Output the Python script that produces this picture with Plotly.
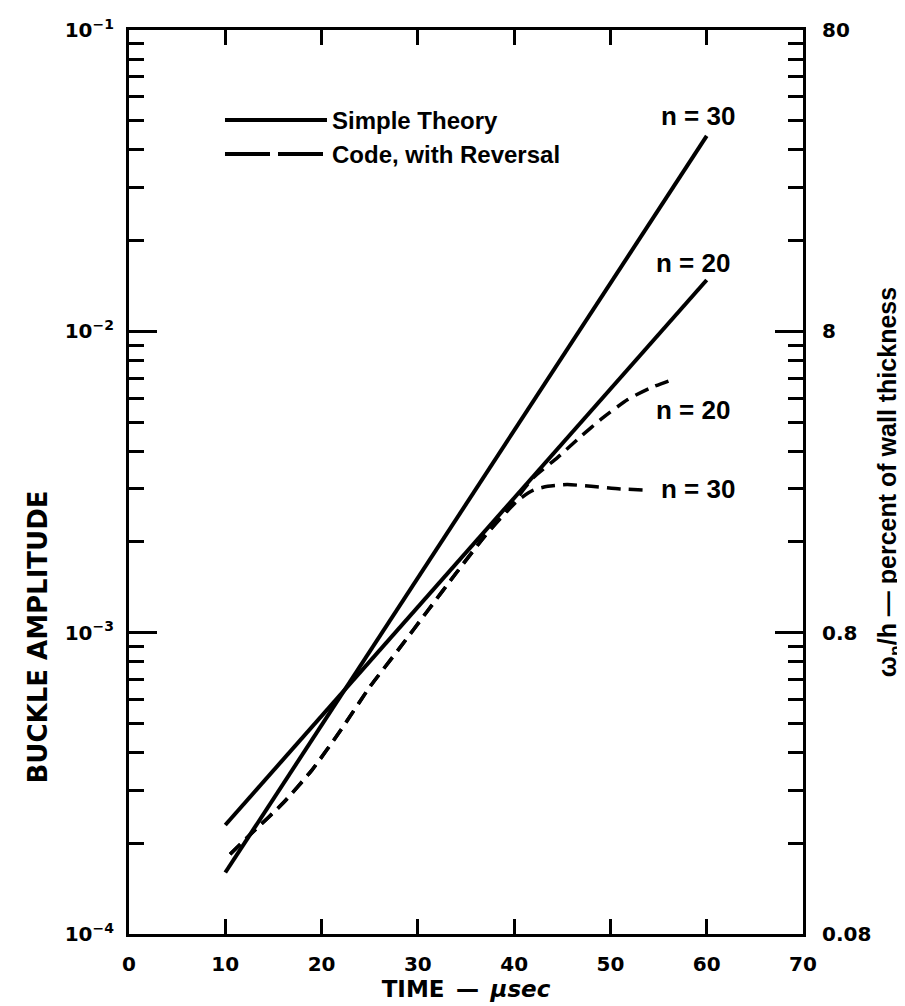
import plotly.graph_objects as go
import math

# ---------------- data ----------------
time_simple = [10, 60]
simple_n30 = [1.6e-4, 4.45e-2]
simple_n20 = [2.3e-4, 1.48e-2]

time_code_n30 = [10.5, 13, 16, 19, 22, 25, 28, 31, 34, 37, 40.4, 42, 43.5, 45.5, 48, 51, 54]
code_n30 = [1.84e-4, 2.2e-4, 2.72e-4, 3.5e-4, 4.75e-4, 6.6e-4, 8.8e-4, 1.18e-3, 1.58e-3, 2.1e-3,
            2.75e-3, 2.97e-3, 3.06e-3, 3.1e-3, 3.06e-3, 3.0e-3, 2.97e-3]

time_code_n20 = [10.5, 13, 16, 19, 22, 25, 28, 31, 34, 37, 40, 42, 44.5, 47, 49, 51.8, 54.2, 56.2]
code_n20 = [1.84e-4, 2.2e-4, 2.72e-4, 3.5e-4, 4.75e-4, 6.6e-4, 8.8e-4, 1.18e-3, 1.58e-3, 2.1e-3,
            2.72e-3, 3.27e-3, 3.81e-3, 4.5e-3, 5.1e-3, 5.94e-3, 6.5e-3, 6.87e-3]

x_ticks = [0, 10, 20, 30, 40, 50, 60, 70]
y_ticks = [1e-4, 1e-3, 1e-2, 1e-1]
y_ticktext = ["10<sup>−4</sup>", "10<sup>−3</sup>", "10<sup>−2</sup>", "10<sup>−1</sup>"]
y2_ticks = [0.08, 0.8, 8, 80]
y2_ticktext = ["0.08", "0.8", "8", "80"]
y_minor = [k * 10.0 ** e for e in (-4, -3, -2) for k in range(2, 10)]

curve_labels = [
    (59.1, 5.2e-2, "n = 30"),
    (58.6, 1.69e-2, "n = 20"),
    (58.6, 5.5e-3, "n = 20"),
    (59.1, 3.0e-3, "n = 30"),
]

# ---------------- figure ----------------
BLACK = "#000000"
LIB = "Liberation Sans, Arial, sans-serif"
DJV = "DejaVu Sans, sans-serif"
TXT = dict(family=LIB, size=26, color=BLACK, weight="bold")
LEGF = dict(family=LIB, size=24, color=BLACK, weight="bold")
TICKF = dict(family=DJV, size=20, color=BLACK, weight="bold")

fig = go.Figure()

fig.add_trace(go.Scatter(x=time_simple, y=simple_n30, mode="lines", name="Simple Theory",
                         line=dict(color=BLACK, width=4), showlegend=True))
fig.add_trace(go.Scatter(x=time_simple, y=simple_n20, mode="lines", name="Simple Theory n20",
                         line=dict(color=BLACK, width=4), showlegend=False))
fig.add_trace(go.Scatter(x=time_code_n30, y=code_n30, mode="lines", name="Code n30",
                         line=dict(color=BLACK, width=3.5, dash="14px,8px", shape="spline", smoothing=0.6),
                         showlegend=False))
fig.add_trace(go.Scatter(x=time_code_n20, y=code_n20, mode="lines", name="Code n20",
                         line=dict(color=BLACK, width=3.5, dash="14px,8px", shape="spline", smoothing=0.6),
                         showlegend=False))
# legend entry for the dashed style
fig.add_trace(go.Scatter(x=[None], y=[None], mode="lines", name="Code, with Reversal",
                         line=dict(color=BLACK, width=4, dash="45px,8px"), showlegend=True))
# invisible trace on the right axis so it is drawn
fig.add_trace(go.Scatter(x=[None], y=[None], yaxis="y2", showlegend=False, hoverinfo="skip"))

for x, y, t in curve_labels:
    fig.add_annotation(x=x, y=math.log10(y), xref="x", yref="y", text=t, showarrow=False,
                       font=TXT, xanchor="center", yanchor="middle")

# left axis title (placed lower than centre, as in the original)
fig.add_annotation(x=-0.135, y=0.328, xref="paper", yref="paper", text="BUCKLE AMPLITUDE",
                   textangle=-90, showarrow=False, xanchor="center", yanchor="middle",
                   font=dict(family=DJV, size=26, color=BLACK, weight="bold"))

fig.update_layout(
    width=905, height=1006,
    margin=dict(l=121, r=110, t=22, b=80),
    paper_bgcolor="white", plot_bgcolor="white",
    showlegend=True,
    legend=dict(x=0.135, y=0.925, xanchor="left", yanchor="top", bgcolor="rgba(0,0,0,0)",
                font=LEGF, itemwidth=102, tracegroupgap=0),
    xaxis=dict(range=[0, 70], tickvals=x_ticks, ticks="inside", ticklen=15, tickwidth=3,
               tickcolor=BLACK, showline=True, linewidth=3, linecolor=BLACK, mirror="ticks",
               showgrid=False, zeroline=False, tickfont=TICKF, ticklabelstandoff=10, automargin=False,
               title=dict(text="TIME\u2002—\u2002<i>µsec</i>",
                          font=dict(family=DJV, size=23, color=BLACK, weight="bold"),
                          standoff=4)),
    yaxis=dict(type="log", range=[-4, -1], tickvals=y_ticks, ticktext=y_ticktext,
               ticks="inside", ticklen=28, tickwidth=3, tickcolor=BLACK,
               minor=dict(tickvals=y_minor, ticks="inside", ticklen=15, tickwidth=3, tickcolor=BLACK, showgrid=False),
               showline=True, linewidth=3, linecolor=BLACK, mirror="ticks", automargin=False,
               showgrid=False, zeroline=False, tickfont=TICKF, ticklabelstandoff=8),
    yaxis2=dict(type="log", overlaying="y", side="right", anchor="x", automargin=False,
                range=[math.log10(0.08), math.log10(80)], tickvals=y2_ticks, ticktext=y2_ticktext,
                ticks="", showline=False, showgrid=False, zeroline=False, tickfont=TICKF,
                ticklabelstandoff=18,
                title=dict(text="ω<sub>n</sub>/h — percent of wall thickness",
                           font=dict(family=LIB, size=25, color=BLACK, weight="bold"),
                           standoff=8)),
)

fig.write_html("out.html")
